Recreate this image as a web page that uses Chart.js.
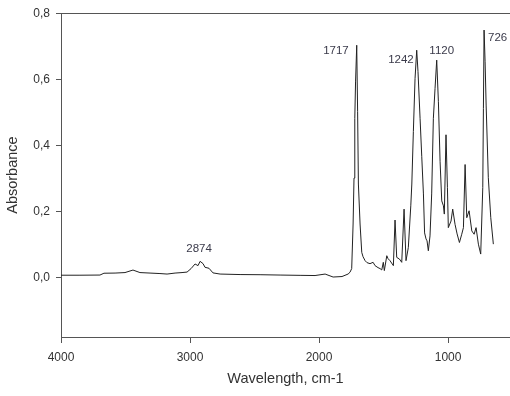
<!DOCTYPE html>
<html>
<head>
<meta charset="utf-8">
<script src="https://cdn.jsdelivr.net/npm/chart.js@4/dist/chart.umd.min.js"></script>
<style>
  html, body { margin: 0; padding: 0; background: #fff; }
  #wrap { width: 510px; height: 396px; }
</style>
</head>
<body>
<div id="wrap"><canvas id="c" width="510" height="396"></canvas></div>
<script>
// spectrum (cm-1, absorbance)
var wavenumbers = [4000, 3853, 3698, 3667, 3581, 3504, 3442, 3388, 3310, 3233, 3178, 3116, 3062, 3023,
  2992, 2961, 2938, 2922, 2899, 2884, 2853, 2822, 2767, 2612, 2457, 2302, 2147, 2031, 1953, 1891,
  1822, 1775, 1760, 1747, 1736, 1729, 1723, 1717, 1708, 1701, 1695, 1682, 1669, 1659, 1643, 1628,
  1605, 1581, 1566, 1543, 1527, 1514, 1502, 1494, 1475, 1465, 1450, 1424, 1411, 1398, 1377, 1359,
  1341, 1326, 1308, 1289, 1281, 1269, 1256, 1243, 1233, 1217, 1204, 1191, 1182, 1171, 1163, 1153,
  1140, 1127, 1114, 1101, 1088, 1075, 1062, 1049, 1036, 1029, 1016, 1005, 998, 977, 964, 946, 930,
  912, 894, 881, 868, 855, 837, 816, 798, 783, 765, 747, 731, 726, 721, 713, 705, 688, 669, 649];
var absorbance = [0.007, 0.007, 0.0075, 0.013, 0.0135, 0.015, 0.0226, 0.015, 0.0135, 0.012, 0.0105, 0.0135, 0.015, 0.0165,
  0.027, 0.041, 0.036, 0.049, 0.042, 0.031, 0.028, 0.014, 0.0105, 0.009, 0.0085, 0.0075, 0.0066, 0.006, 0.0105, 0.0015,
  0.003, 0.0105, 0.016, 0.027, 0.162, 0.301, 0.481, 0.592, 0.703, 0.502, 0.283, 0.162, 0.076, 0.063, 0.051, 0.045,
  0.042, 0.046, 0.036, 0.030, 0.027, 0.023, 0.046, 0.021, 0.066, 0.057, 0.051, 0.036, 0.174, 0.061, 0.056, 0.046,
  0.207, 0.051, 0.091, 0.217, 0.283, 0.442, 0.602, 0.688, 0.623, 0.482, 0.367, 0.253, 0.135, 0.117, 0.111, 0.081,
  0.126, 0.253, 0.482, 0.572, 0.658, 0.532, 0.352, 0.232, 0.217, 0.192, 0.432, 0.272, 0.151, 0.171, 0.207, 0.161, 0.132,
  0.106, 0.131, 0.151, 0.342, 0.181, 0.202, 0.141, 0.131, 0.151, 0.101, 0.071, 0.272, 0.512, 0.749, 0.653, 0.522, 0.302, 0.181, 0.101];

var xTickValues = [4000, 3000, 2000, 1000];
var yTickValues = [0, 0.2, 0.4, 0.6, 0.8];

var peakLabels = ['2874', '1717', '1242', '1120', '726'];
var peakAt = [2922, 1708, 1243, 1088, 721];

var textColor = '#333';
var axisColor = '#555';
var fontFamily = '"Liberation Sans", Arial, sans-serif';

var points = wavenumbers.map(function (w, i) { return { x: w, y: absorbance[i] }; });

// how each peak label sits next to its peak (pixels)
var labelPlace = {
  '2874': { align: 'center', dx: -1, dy: -13 },
  '1717': { align: 'right', dx: -8, dy: 6 },
  '1242': { align: 'right', dx: -3, dy: 10 },
  '1120': { align: 'center', dx: 5, dy: -9 },
  '726': { align: 'left', dx: 4, dy: 8 }
};

var peakLabelPlugin = {
  id: 'peakLabels',
  afterDatasetsDraw: function (chart) {
    var ctx = chart.ctx;
    var xs = chart.scales.x, ys = chart.scales.y;
    ctx.save();
    ctx.font = '11.5px ' + fontFamily;
    ctx.fillStyle = '#3a3a4a';
    ctx.textBaseline = 'middle';
    peakLabels.forEach(function (txt, i) {
      var idx = wavenumbers.indexOf(peakAt[i]);
      var px = xs.getPixelForValue(wavenumbers[idx]);
      var py = ys.getPixelForValue(absorbance[idx]);
      var p = labelPlace[txt];
      ctx.textAlign = p.align;
      ctx.fillText(txt, px + p.dx, py + p.dy);
    });
    ctx.restore();
  }
};

new Chart(document.getElementById('c'), {
  type: 'line',
  data: {
    datasets: [{
      data: points,
      borderColor: '#222',
      borderWidth: 1,
      pointRadius: 0,
      tension: 0,
      fill: false
    }]
  },
  options: {
    responsive: false,
    animation: false,
    devicePixelRatio: 1,
    layout: { padding: 0 },
    plugins: { legend: { display: false }, tooltip: { enabled: false } },
    scales: {
      x: {
        type: 'linear',
        position: 'bottom',
        reverse: true,
        min: 520,
        max: 4000,
        afterBuildTicks: function (s) { s.ticks = xTickValues.map(function (v) { return { value: v }; }); },
        afterFit: function (s) { s.height = 59; },
        grid: { display: true, drawOnChartArea: false, tickLength: 6, tickColor: axisColor, tickWidth: 1 },
        border: { display: true, color: axisColor, width: 1 },
        ticks: { color: textColor, padding: 7, maxRotation: 0, font: { size: 12, family: fontFamily },
          callback: function (v) { return String(v); } },
        title: { display: true, text: 'Wavelength, cm-1', color: textColor,
          font: { size: 14.5, family: fontFamily }, padding: { top: 0, bottom: 8 } }
      },
      xTop: {
        type: 'linear',
        position: 'top',
        min: 520,
        max: 4000,
        afterFit: function (s) { s.height = 11; },
        grid: { display: false },
        border: { display: true, color: axisColor, width: 1 },
        ticks: { display: false }
      },
      y: {
        type: 'linear',
        min: -0.18,
        max: 0.8,
        afterBuildTicks: function (s) { s.ticks = yTickValues.map(function (v) { return { value: v }; }); },
        afterFit: function (s) { s.width = 61; },
        grid: { display: true, drawOnChartArea: false, tickLength: 5, tickColor: axisColor, tickWidth: 1 },
        border: { display: true, color: axisColor, width: 1 },
        ticks: { color: textColor, padding: 6, font: { size: 12, family: fontFamily },
          callback: function (v) { return v.toFixed(1).replace('.', ','); } },
        title: { display: true, text: 'Absorbance', color: textColor,
          font: { size: 14.5, family: fontFamily }, padding: { top: 4, bottom: 0 } }
      }
    }
  },
  plugins: [peakLabelPlugin]
});
</script>
</body>
</html>
